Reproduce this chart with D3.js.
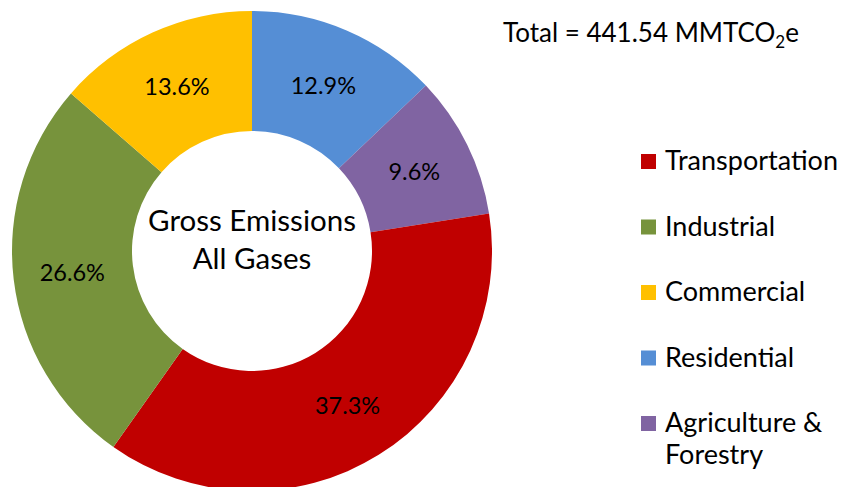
<!DOCTYPE html>
<html>
<head>
<meta charset="utf-8">
<script src="https://cdn.jsdelivr.net/npm/d3@7/dist/d3.min.js"></script>
<style>
  body { margin: 0; background: #fff; }
  svg text { font-family: Lato, "Open Sans", sans-serif; fill: #000; }
</style>
</head>
<body>
<div id="chart"></div>
<script>
// chart data, clockwise from 12 o'clock
const sectors = ['Residential', 'Agriculture & Forestry', 'Transportation', 'Industrial', 'Commercial'];
const shares = [12.9, 9.6, 37.3, 26.6, 13.6];
const colors = ['#558ED5', '#8064A2', '#C00000', '#77933C', '#FFC000'];

// legend order as shown on the right
const legendOrder = ['Transportation', 'Industrial', 'Commercial', 'Residential', 'Agriculture & Forestry'];
const legendLines = {
  'Agriculture & Forestry': ['Agriculture &', 'Forestry']
};

const width = 843, height = 487;
const cx = 252, cy = 251, outerR = 240, innerR = 120;

const svg = d3.select('#chart').append('svg')
  .attr('width', width)
  .attr('height', height);

const color = d3.scaleOrdinal().domain(sectors).range(colors);

const pie = d3.pie().sort(null).value(d => d.value);
const arc = d3.arc().innerRadius(innerR).outerRadius(outerR);
const labelArc = d3.arc().innerRadius(181).outerRadius(181);

const data = sectors.map((s, i) => ({ name: s, value: shares[i] }));
const arcs = pie(data);

const g = svg.append('g').attr('transform', `translate(${cx},${cy})`);

g.selectAll('path')
  .data(arcs)
  .join('path')
  .attr('d', arc)
  .attr('fill', d => color(d.data.name));

g.selectAll('text.pct')
  .data(arcs)
  .join('text')
  .attr('class', 'pct')
  .attr('transform', d => `translate(${labelArc.centroid(d)})`)
  .attr('text-anchor', 'middle')
  .attr('dy', '0.38em')
  .style('font-size', '23.5px')
  .text(d => d.data.value.toFixed(1) + '%');

// center caption
const center = g.append('text')
  .attr('text-anchor', 'middle')
  .style('font-size', '29.5px');
center.append('tspan').attr('x', 0).attr('y', -20).text('Gross Emissions');
center.append('tspan').attr('x', 0).attr('y', 18).text('All Gases');

// total
const total = svg.append('text')
  .attr('x', 503)
  .attr('y', 42)
  .style('font-size', '26px');
total.append('tspan').text('Total = 441.54 MMTCO');
total.append('tspan').attr('dy', 6).style('font-size', '17px').text('2');
total.append('tspan').attr('dy', -6).text('e');

// legend
const legendY = d3.scalePoint().domain(legendOrder).range([170, 432]);

const legend = svg.append('g');
const items = legend.selectAll('g')
  .data(legendOrder)
  .join('g')
  .attr('transform', d => `translate(641,${legendY(d)})`);

items.append('rect')
  .attr('x', 0)
  .attr('y', -16)
  .attr('width', 15)
  .attr('height', 15)
  .attr('fill', d => color(d));

items.append('text')
  .attr('x', 24)
  .style('font-size', '27px')
  .selectAll('tspan')
  .data(d => legendLines[d] || [d])
  .join('tspan')
  .attr('x', 24)
  .attr('y', (d, i) => i * 32)
  .text(d => d);
</script>
</body>
</html>
